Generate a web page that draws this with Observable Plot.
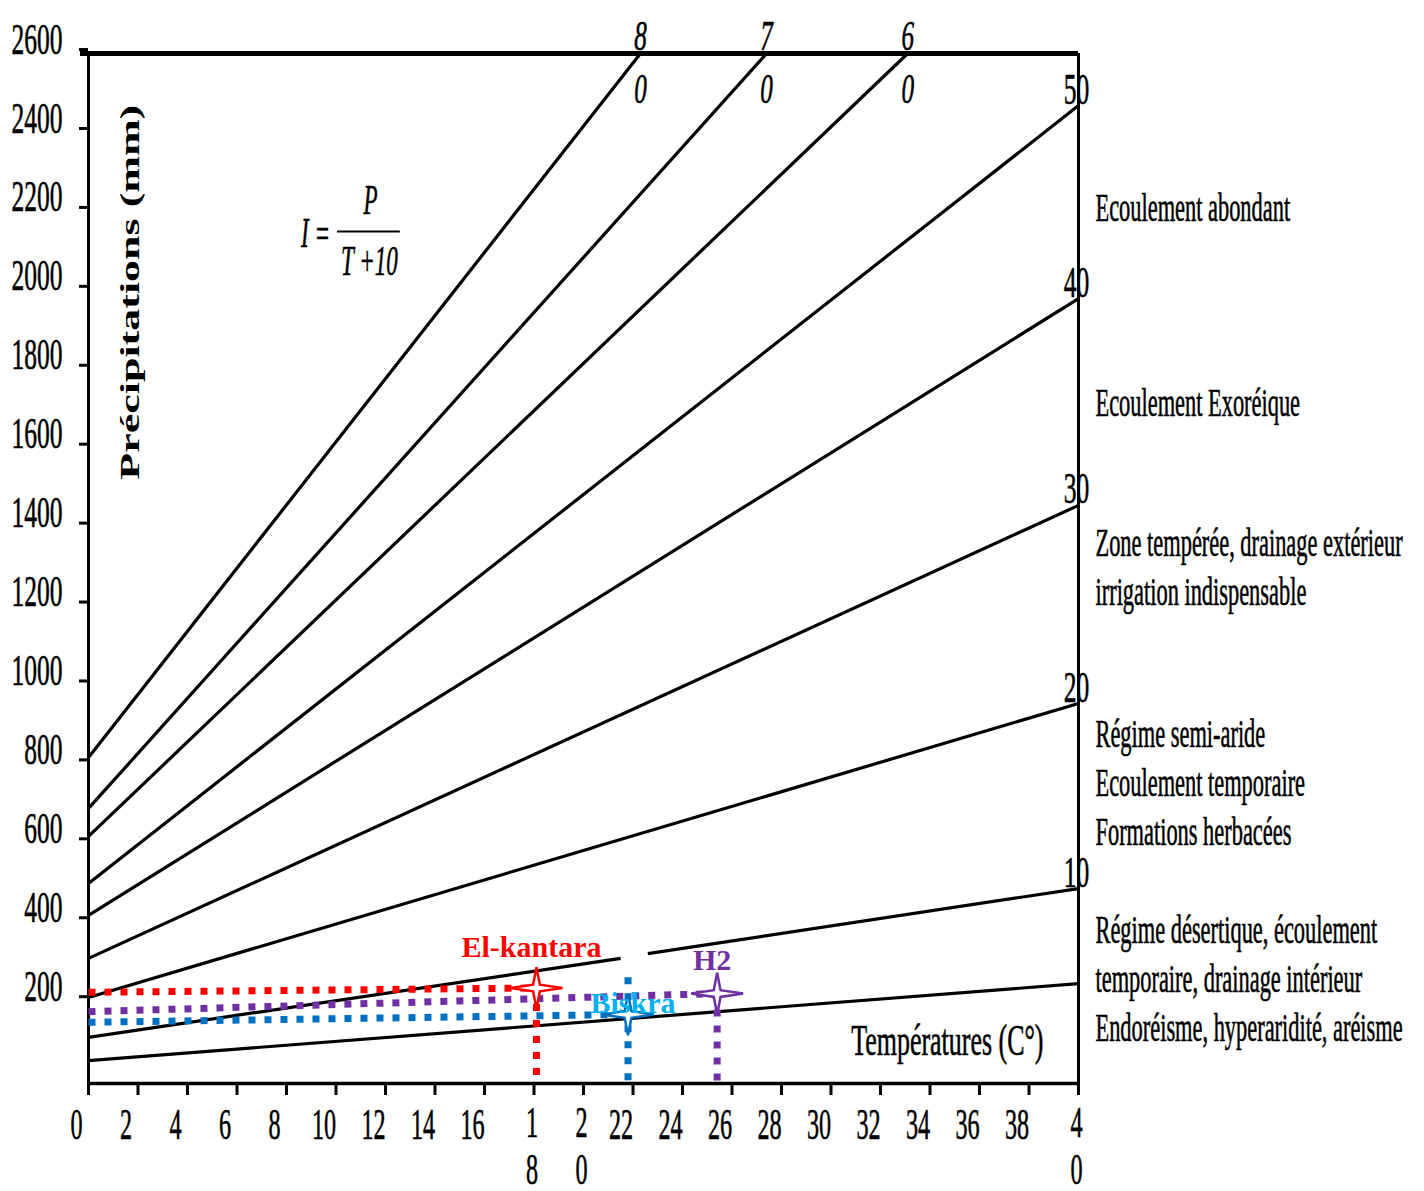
<!DOCTYPE html>
<html>
<head>
<meta charset="utf-8">
<script src="https://cdn.jsdelivr.net/npm/d3@7"></script>
<script src="https://cdn.jsdelivr.net/npm/@observablehq/plot@0.6"></script>
<style>
html, body { margin: 0; padding: 0; background: #fff; }
#chart { width: 1424px; height: 1191px; overflow: hidden; }
</style>
</head>
<body>
<div id="chart"></div>
<script>
// ---- De Martonne index lines (I = P/(T+10)), endpoints ----
const lineIndex  = [80, 70, 60, 50, 40, 30, 20, 10, 5];
const lineStartT = [0, 0, 0, 0, 0, 0, 0, 0, 0];
const lineStartP = [806, 677, 606, 487, 406, 297, 198, 97, 38];
const lineEndT   = [22.3, 27.4, 33.1, 40, 40, 40, 40, 40, 40];
const lineEndP   = [2590, 2590, 2590, 2458, 1969, 1445, 943, 474, 233];
// break visible in the I=10 line
const gapIndex = 10;
const gapStart = [21.5, 297];
const gapEnd   = [22.6, 309];

// index labels
const topLabels   = ["8\n0", "7\n0", "6\n0"];
const rightLabels = ["50", "40", "30", "20", "10"];

// axes
const yTicks = [200, 400, 600, 800, 1000, 1200, 1400, 1600, 1800, 2000, 2200, 2400, 2600];
const xTicks = [0, 2, 4, 6, 8, 10, 12, 14, 16, 18, 20, 22, 24, 26, 28, 30, 32, 34, 36, 38, 40];
const xTickLabels = ["0", "2", "4", "6", "8", "10", "12", "14", "16", "1\n8", "2\n0", "22", "24", "26", "28", "30", "32", "34", "36", "38", "4\n0"];

// stations
const stationNames      = ["El-kantara", "Biskra", "H2"];
const stationT          = [18.1, 21.8, 25.4];
const stationP          = [222, 155, 208];
const stationStartP     = [211, 135, 162];
const stationTopP       = [222, 249, 208];
const stationLabelT     = [17.9, 22.0, 25.2];
const stationLabelP     = [325, 183, 292];
const stationLineColor  = ["#ff0000", "#0070c0", "#7030a0"];
const stationLabelColor = ["#ff0000", "#00b0f0", "#7030a0"];

// zone descriptions (right margin)
const zoneTexts = [
  "Ecoulement abondant",
  "Ecoulement Exoréique",
  "Zone tempérée, drainage extérieur\nirrigation indispensable",
  "Régime semi-aride\nEcoulement temporaire\nFormations herbacées",
  "Régime désertique, écoulement\ntemporaire, drainage intérieur\nEndoréisme, hyperaridité, aréisme"
];
const zoneP = [2205, 1711, 1295, 748, 251];

// ---- build tables ----
const segs = [];
lineIndex.forEach((I, i) => {
  if (I === gapIndex) {
    segs.push({x1: lineStartT[i], y1: lineStartP[i], x2: gapStart[0], y2: gapStart[1]});
    segs.push({x1: gapEnd[0], y1: gapEnd[1], x2: lineEndT[i], y2: lineEndP[i]});
  } else {
    segs.push({x1: lineStartT[i], y1: lineStartP[i], x2: lineEndT[i], y2: lineEndP[i]});
  }
});
const topLab = topLabels.map((t, i) => ({t, T: lineEndT[i], P: lineEndP[i]}));
const rightLab = rightLabels.map((t, i) => ({t, T: lineEndT[i + 3], P: lineEndP[i + 3]}));
const xLab = xTicks.map((v, i) => ({v, t: xTickLabels[i]}));
const xLabFlat = xLab.filter(d => !d.t.includes("\n"));
const xLabStacked = xLab.filter(d => d.t.includes("\n"));
const stations = stationNames.map((name, i) => ({
  name, T: stationT[i], P: stationP[i], P0: stationStartP[i], Ptop: stationTopP[i],
  LT: stationLabelT[i], LP: stationLabelP[i], c: stationLineColor[i], lc: stationLabelColor[i]
}));
const zones = zoneTexts.map((t, i) => ({t, P: zoneP[i]}));

const star4 = {
  draw(ctx, size) {
    const r = Math.sqrt(size / Math.PI);
    const R = r, V = r * 0.8, k = r * 0.13;
    ctx.moveTo(R, 0); ctx.lineTo(k, k); ctx.lineTo(0, V); ctx.lineTo(-k, k);
    ctx.lineTo(-R, 0); ctx.lineTo(-k, -k); ctx.lineTo(0, -V); ctx.lineTo(k, -k);
    ctx.closePath();
  }
};

const dotted = {strokeWidth: 7, strokeDasharray: "7,9", strokeLinecap: "butt"};
const tag = (name) => () => name;
const ink = {fill: "#000", stroke: "#000", strokeWidth: 0.6};

const chart = Plot.plot({
  width: 1424,
  height: 1191,
  marginLeft: 88,
  marginRight: 346,
  marginTop: 53,
  marginBottom: 108,
  style: {fontFamily: "'Liberation Serif', 'Times New Roman', serif", background: "#fff", color: "#000"},
  x: {domain: [0, 40], label: null},
  y: {domain: [-20, 2590], label: null},
  marks: [
    // axes ticks
    Plot.axisY({ticks: yTicks, tickSize: 9, tickFormat: () => "", strokeWidth: 3, label: null}),
    Plot.axisX({ticks: xTicks, tickSize: 12, tickFormat: () => "", strokeWidth: 3, label: null}),
    // frame
    Plot.ruleX([0, 40], {stroke: "#000", strokeWidth: 3}),
    Plot.ruleY([-20], {stroke: "#000", strokeWidth: 3.5}),
    Plot.ruleY([2590], {stroke: "#000", strokeWidth: 5, insetLeft: -8}),
    // index lines
    Plot.link(segs, {x1: "x1", y1: "y1", x2: "x2", y2: "y2", stroke: "#000", strokeWidth: 3.2}),
    // station guide lines
    Plot.link(stations, {x1: 0, y1: "P0", x2: "T", y2: "P", stroke: "c", ...dotted}),
    Plot.link(stations, {x1: "T", y1: "Ptop", x2: "T", y2: -20, stroke: "c", ...dotted}),
    Plot.dot(stations, {x: "T", y: "P", symbol: star4, r: 26, fill: "#fff", stroke: "c", strokeWidth: 2.5}),
    Plot.text(stations, {x: "LT", y: "LP", text: "name", fill: "lc", fontSize: 30, fontWeight: "bold"}),
    // y tick labels
    Plot.text(yTicks, {y: d => d, text: d => String(d), frameAnchor: "left", textAnchor: "end", dx: -26, dy: -10, fontSize: 44, ...ink, ariaLabel: tag("ytick-label")}),
    // x tick labels
    Plot.text(xLabFlat, {x: "v", text: "t", frameAnchor: "bottom", lineAnchor: "top", dy: 24, dx: -12, fontSize: 44, ...ink, ariaLabel: tag("xtick-label")}),
    Plot.text(xLabStacked, {x: "v", text: "t", frameAnchor: "bottom", lineAnchor: "top", dy: 20, dx: -2, fontSize: 44, lineHeight: 1.07, ...ink, ariaLabel: tag("xtick-label")}),
    // index labels
    Plot.text(topLab, {x: "T", y: "P", text: "t", fontSize: 42, fontStyle: "italic", lineHeight: 1.25, dy: 6, ...ink, ariaLabel: tag("top-label")}),
    Plot.text(rightLab, {x: "T", y: "P", text: "t", fontSize: 44, dy: -16, dx: -2, ...ink, ariaLabel: tag("right-label")}),
    // zone descriptions
    Plot.text(zones, {x: 40, y: "P", text: "t", textAnchor: "start", dx: 17, fontSize: 40, lineHeight: 1.22, ...ink, ariaLabel: tag("zone-text")}),
    // axis titles
    Plot.text([{T: 1.7, P: 1985}], {x: "T", y: "P", text: () => "Précipitations (mm)", rotate: -90, fontSize: 44, fontWeight: "bold", fill: "#000", ariaLabel: tag("y-title")}),
    Plot.text([{T: 34.7, P: 89}], {x: "T", y: "P", text: () => "Températures (C°)", fontSize: 44, ...ink, ariaLabel: tag("x-title")}),
    // formula
    Plot.text([{T: 9.17, P: 2134, t: "I ="}, {T: 11.4, P: 2218, t: "P"}, {T: 11.35, P: 2063, t: "T +10"}],
      {x: "T", y: "P", text: "t", fontSize: 42, fontStyle: "italic", ...ink, ariaLabel: tag("formula")}),
    Plot.ruleY([{P: 2139, a: 10.06, b: 12.6}], {y: "P", x1: "a", x2: "b", stroke: "#000", strokeWidth: 2})
  ]
});

// horizontally condensed lettering, as in the scanned figure
const squeeze = {
  "ytick-label": "scale(0.58,1)",
  "xtick-label": "scale(0.55,1)",
  "top-label": "scale(0.6,1)",
  "right-label": "scale(0.58,1)",
  "zone-text": "scale(0.56,1)",
  "x-title": "scale(0.59,1)",
  "formula": "scale(0.55,1)",
  "y-title": "scale(1,0.62)"
};
for (const [label, tr] of Object.entries(squeeze)) {
  d3.select(chart).selectAll(`[aria-label="${label}"]`)
    .each(function () {
      const el = this.tagName.toLowerCase() === "text" ? [this] : Array.from(this.querySelectorAll("text"));
      for (const t of el) t.setAttribute("transform", (t.getAttribute("transform") || "") + " " + tr);
    });
}
document.getElementById("chart").appendChild(chart);
</script>
</body>
</html>
